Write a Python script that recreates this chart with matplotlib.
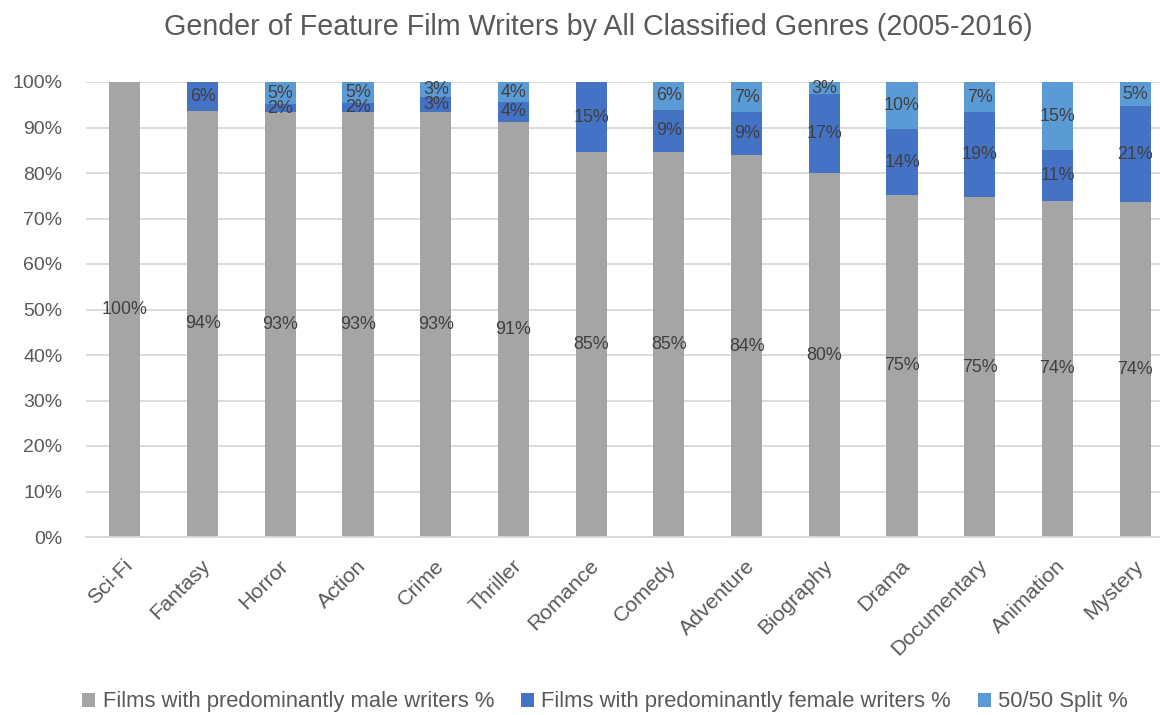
import matplotlib
matplotlib.use("Agg")
import matplotlib.pyplot as plt
import matplotlib.transforms as mtransforms
import numpy as np

genres = ["Sci-Fi", "Fantasy", "Horror", "Action", "Crime", "Thriller", "Romance",
          "Comedy", "Adventure", "Biography", "Drama", "Documentary", "Animation", "Mystery"]
male = [100.0, 93.7, 93.3, 93.3, 93.3, 91.3, 84.6, 84.6, 83.9, 79.9, 75.2, 74.7, 73.9, 73.6]
female = [0.0, 6.3, 1.8, 2.0, 3.3, 4.3, 15.4, 9.3, 9.4, 17.4, 14.4, 18.6, 11.1, 21.1]
split = [0.0, 0.0, 4.9, 4.7, 3.4, 4.4, 0.0, 6.1, 6.7, 2.7, 10.4, 6.7, 15.0, 5.3]
series_names = ["Films with predominantly male writers %",
                "Films with predominantly female writers %",
                "50/50 Split %"]
yticks = [0, 10, 20, 30, 40, 50, 60, 70, 80, 90, 100]
title = "Gender of Feature Film Writers by All Classified Genres (2005-2016)"

colors = ["#A5A5A5", "#4472C4", "#5B9BD5"]
FONT = "Liberation Sans"
plt.rcParams['font.family'] = [FONT, 'DejaVu Sans']

W, H = 1160, 715
fig = plt.figure(figsize=(W / 100, H / 100), dpi=100)
renderer = fig.canvas.get_renderer()


def fit_size(text, target_px, base=14.0):
    t = fig.text(0, 0, text, fontsize=base)
    w = t.get_window_extent(renderer).width
    t.remove()
    return base * target_px / w


title_fs = fit_size(title, 873)
ytick_fs = fit_size("100%", 50)
label_fs = fit_size("100%", 46)
xtick_fs = fit_size("Documentary", 128)
legend_fs = fit_size(series_names[0], 396)

ax = fig.add_axes([86 / W, 1 - 537 / H, 1088 / W, (537 - 82) / H])

x = np.arange(len(genres))
bottom = np.zeros(len(genres))
handles = []
for vals, col, name in zip([male, female, split], colors, series_names):
    vals = np.array(vals)
    bars = ax.bar(x, vals, width=0.4, bottom=bottom, color=col, label=name, zorder=2)
    handles.append(bars)
    for xi, v, b in zip(x, vals, bottom):
        if v > 0:
            ax.text(xi, b + v / 2, f"{round(v):d}%", ha="center", va="center",
                    fontsize=label_fs, color="#404040", zorder=3)
    bottom = bottom + vals

ax.set_xlim(-0.5, len(genres) - 0.5)
ax.set_ylim(0, 100)
ax.set_yticks(yticks)
ax.set_yticklabels([f"{t}%" for t in yticks])
ax.yaxis.grid(True, color="#D9D9D9", linewidth=1.3, zorder=0)
ax.set_axisbelow(True)
for s in ["top", "right", "left"]:
    ax.spines[s].set_visible(False)
ax.spines["bottom"].set_color("#D9D9D9")
ax.spines["bottom"].set_linewidth(1.3)
ax.tick_params(axis="y", length=0, pad=17, labelsize=ytick_fs, labelcolor="#595959")
ax.tick_params(axis="x", length=0, pad=10, labelsize=xtick_fs, labelcolor="#595959")
ax.set_xticks(x)
ax.set_xticklabels(genres, rotation=45, ha="right", va="center", rotation_mode="anchor")
shift = mtransforms.ScaledTranslation(5 / 100, -12 / 100, fig.dpi_scale_trans)
for lbl in ax.get_xticklabels():
    lbl.set_transform(lbl.get_transform() + shift)

fig.text(598.5 / W, 1 - 35 / H, title, ha="center", va="baseline", fontsize=title_fs,
         color="#595959")

leg = fig.legend(handles=handles, labels=series_names, loc="center", ncol=3,
                 bbox_to_anchor=(605 / W, 1 - 702 / H), frameon=False, fontsize=legend_fs,
                 handlelength=0.6, handleheight=0.6, handletextpad=0.35, columnspacing=1.2,
                 labelcolor="#595959", borderpad=0, borderaxespad=0)

fig.savefig("out.png", dpi=100)
